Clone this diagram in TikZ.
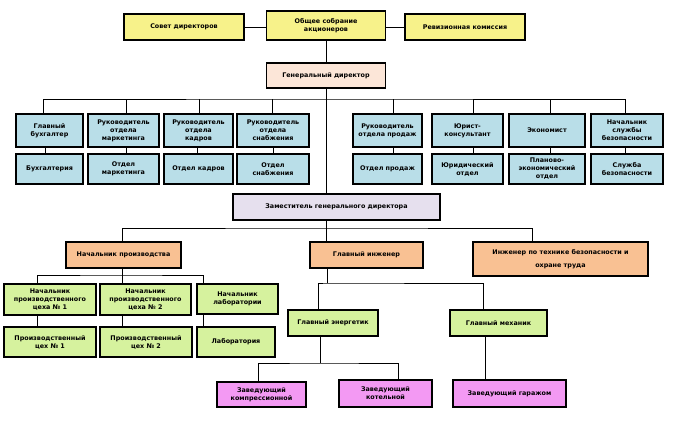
\documentclass[tikz,border=0pt]{standalone}
\usepackage{fontspec}
\setmainfont{DejaVu Sans}
\definecolor{cyel}{HTML}{F7F28A}
\definecolor{cpeach}{HTML}{FCE6D8}
\definecolor{cblue}{HTML}{B9DEE8}
\definecolor{clav}{HTML}{E6E0EE}
\definecolor{corange}{HTML}{F9C193}
\definecolor{cgreen}{HTML}{D6F29E}
\definecolor{cmag}{HTML}{F399F3}
\begin{document}
\begin{tikzpicture}[x=1pt,y=-1pt,
  box/.style={draw=black, line width=1.2pt, align=center, inner sep=1pt,
    font=\bfseries\fontsize{6.4}{8.0}\selectfont},
  conn/.style={draw=black, line width=0.9pt}]
\useasboundingbox[fill=white] (0,0) rectangle (675,424);
% top level
\node[box, fill=cyel, minimum width=120, minimum height=26] (sovet) at (184,27) {Совет директоров};
\node[box, fill=cyel, minimum width=119, minimum height=29] (obsh) at (326,25.5) {Общее собрание\\акционеров};
\node[box, fill=cyel, minimum width=120, minimum height=26] (reviz) at (465,27) {Ревизионная комиссия};
\node[box, fill=cpeach, minimum width=119, minimum height=25] (gd) at (326,75.5) {Генеральный директор};
% blue rows
\tikzset{bt/.style={box, fill=cblue, minimum height=33}, bb/.style={box, fill=cblue, minimum height=30}}
\node[bt, minimum width=67] (b1) at (49.5,130.5) {Главный\\бухгалтер};
\node[bt, minimum width=71] (b2) at (123.5,130.5) {Руководитель\\отдела\\маркетинга};
\node[bt, minimum width=69] (b3) at (198.5,130.5) {Руководитель\\отдела\\кадров};
\node[bt, minimum width=72] (b4) at (273,130.5) {Руководитель\\отдела\\снабжения};
\node[bt, minimum width=69] (b5) at (387.5,130.5) {Руководитель\\отдела продаж};
\node[bt, minimum width=71] (b6) at (467.5,130.5) {Юрист-\\консультант};
\node[bt, minimum width=76] (b7) at (547,130.5) {Экономист};
\node[bt, minimum width=72] (b8) at (627,130.5) {Начальник\\службы\\безопасности};
\node[bb, minimum width=67] (l1) at (49.5,169) {Бухгалтерия};
\node[bb, minimum width=71] (l2) at (123.5,169) {Отдел\\маркетинга};
\node[bb, minimum width=69] (l3) at (198.5,169) {Отдел кадров};
\node[bb, minimum width=72] (l4) at (273,169) {Отдел\\снабжения};
\node[bb, minimum width=69] (l5) at (387.5,169) {Отдел продаж};
\node[bb, minimum width=71] (l6) at (467.5,169) {Юридический\\отдел};
\node[bb, minimum width=76] (l7) at (547,169) {Планово-\\экономический\\отдел};
\node[bb, minimum width=72] (l8) at (627,169) {Служба\\безопасности};
% deputy
\node[box, fill=clav, minimum width=207, minimum height=26] (zam) at (336.5,207) {Заместитель генерального директора};
\node[box, fill=corange, minimum width=115, minimum height=26] (np) at (123.5,255) {Начальник производства};
\node[box, fill=corange, minimum width=113, minimum height=26] (gi) at (366.5,255) {Главный инженер};
\node[box, fill=corange, minimum width=175, minimum height=34, font=\bfseries\fontsize{6.4}{12.7}\selectfont] (it) at (560.5,259) {Инженер по технике безопасности и\\охране труда};
% green
\node[box, fill=cgreen, minimum width=92, minimum height=31] (gA) at (50,299.5) {Начальник\\производственного\\цеха № 1};
\node[box, fill=cgreen, minimum width=91, minimum height=31] (gB) at (145.5,299.5) {Начальник\\производственного\\цеха № 2};
\node[box, fill=cgreen, minimum width=81, minimum height=30] (gC) at (237.5,299) {Начальник\\лаборатории};
\node[box, fill=cgreen, minimum width=92, minimum height=30] (hA) at (50,342) {Производственный\\цех № 1};
\node[box, fill=cgreen, minimum width=92, minimum height=30] (hB) at (146,342) {Производственный\\цех № 2};
\node[box, fill=cgreen, minimum width=78, minimum height=30] (hC) at (236,342) {Лаборатория};
\node[box, fill=cgreen, minimum width=90, minimum height=26] (ge) at (333,323) {Главный энергетик};
\node[box, fill=cgreen, minimum width=97, minimum height=26] (gm) at (498.5,323) {Главный механик};
% magenta
\node[box, fill=cmag, minimum width=89, minimum height=25] (zk) at (261.5,394.5) {Заведующий\\компрессионной};
\node[box, fill=cmag, minimum width=93, minimum height=27] (zc) at (385.5,393.5) {Заведующий\\котельной};
\node[box, fill=cmag, minimum width=113, minimum height=27] (zg) at (509.5,393.5) {Заведующий гаражом};
% connectors top
\draw[conn] (sovet.east) -- (sovet.east -| obsh.west);
\draw[conn] (reviz.west) -- (reviz.west -| obsh.east);
\draw[conn] (obsh.south) -- (gd.north);
\coordinate (bus) at (326,99);
\draw[conn] (gd.south) -- (gd.south |- zam.north);
\draw[conn] ([xshift=-6.5pt]b1.north) |- (bus) -| ([xshift=-2pt]b8.north);
\draw[conn] ([xshift=2.5pt]b2.north) -- ([xshift=2.5pt]b2.north |- bus);
\draw[conn] ([xshift=0.5pt]b3.north) -- ([xshift=0.5pt]b3.north |- bus);
\draw[conn] ([xshift=-1pt]b4.north) -- ([xshift=-1pt]b4.north |- bus);
\draw[conn] ([xshift=5.5pt]b5.north) -- ([xshift=5.5pt]b5.north |- bus);
\draw[conn] ([xshift=5.5pt]b6.north) -- ([xshift=5.5pt]b6.north |- bus);
\draw[conn] ([xshift=3pt]b7.north) -- ([xshift=3pt]b7.north |- bus);
\draw[conn] ([xshift=-4.5pt]b1.south) -- ([xshift=-4.5pt]l1.north);
\draw[conn] ([xshift=3pt]b2.south) -- ([xshift=3pt]l2.north);
\draw[conn] ([xshift=-1.5pt]b3.south) -- ([xshift=-1.5pt]l3.north);
\draw[conn] ([xshift=0pt]b4.south) -- ([xshift=0pt]l4.north);
\draw[conn] ([xshift=5.5pt]b5.south) -- ([xshift=5.5pt]l5.north);
\draw[conn] ([xshift=5.5pt]b6.south) -- ([xshift=5.5pt]l6.north);
\draw[conn] ([xshift=3pt]b7.south) -- ([xshift=3pt]l7.north);
\draw[conn] ([xshift=-2pt]b8.south) -- ([xshift=-2pt]l8.north);
% deputy branches
\coordinate (bus2) at (326,228);
\draw[conn] (zam.south -| bus2) -- (bus2);
\draw[conn] ([xshift=-1.5pt]np.north) |- (bus2) -| ([xshift=-28.5pt]it.north);
\draw[conn] (bus2) -- (bus2 |- gi.north);
% production
\coordinate (bus3) at (122,275);
\draw[conn] ([xshift=-1.5pt]np.south) -- (bus3);
\draw[conn] ([xshift=-13pt]gA.north) |- (bus3) -| ([xshift=-34.5pt]gC.north);
\draw[conn] ([xshift=-23.5pt]gB.north) -- ([xshift=-23.5pt]gB.north |- bus3);
\draw[conn] ([xshift=-13pt]gA.south) -- ([xshift=-13pt]hA.north);
\draw[conn] ([xshift=-23.5pt]gB.south) -- ([xshift=-24pt]hB.north);
\draw[conn] ([xshift=-34.5pt]gC.south) -- ([xshift=-33pt]hC.north);
% engineer
\coordinate (bus4) at (327,283);
\draw[conn] (gi.south -| bus4) -- (bus4);
\draw[conn] ([xshift=-15pt]ge.north) |- (bus4) -| ([xshift=-15.5pt]gm.north);
\coordinate (bus5) at (320,363);
\draw[conn] ([xshift=-13pt]ge.south) -- (bus5);
\draw[conn] ([xshift=-3.5pt]zk.north) |- (bus5) -| ([xshift=12.5pt]zc.north);
\draw[conn] ([xshift=-13.5pt]gm.south) -- ([xshift=-24.5pt]zg.north);
\end{tikzpicture}
\end{document}
